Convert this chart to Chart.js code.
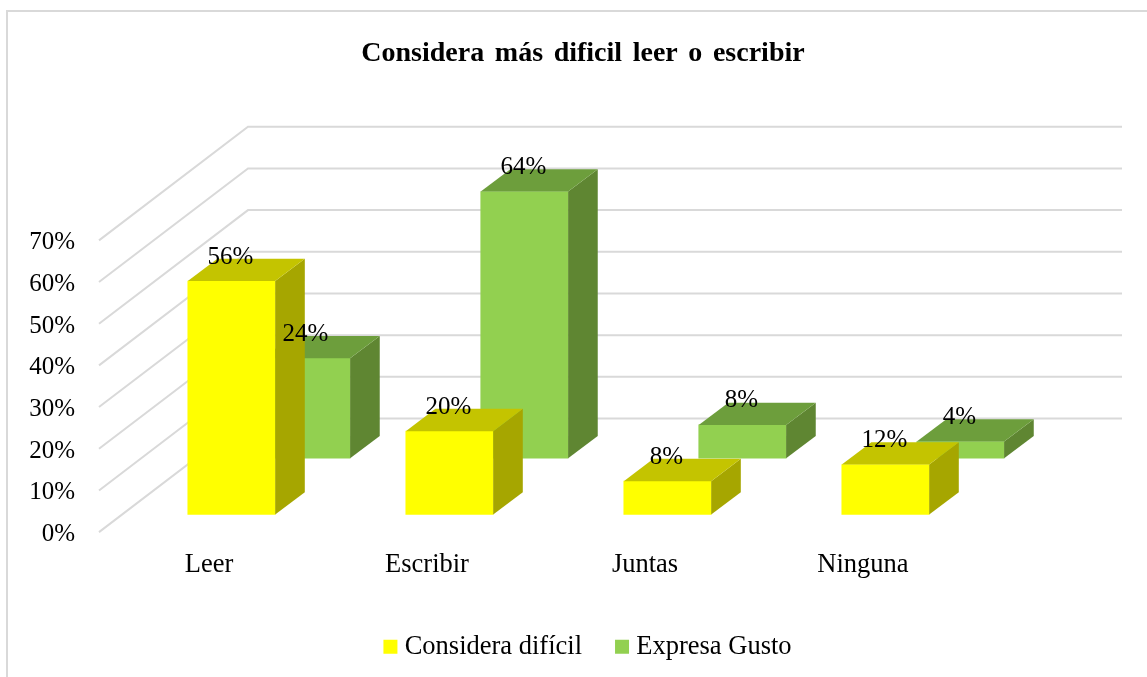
<!DOCTYPE html>
<html><head><meta charset="utf-8">
<style>html,body{margin:0;padding:0;background:#fff}canvas{display:block}</style>
<script src="https://cdn.jsdelivr.net/npm/chart.js@4"></script>
</head><body>
<div style="width:1147px;height:677px;position:relative"><canvas id="c"></canvas></div>
<script>
const categories = ['Leer','Escribir','Juntas','Ninguna'];
const consideraDificil = [56,20,8,12];
const expresaGusto = [24,64,8,4];
const yTicks = [0,10,20,30,40,50,60,70];
const SERIF = '"Liberation Serif","Times New Roman",serif';
const DX = 29.6, DY = 22.3, FRONT = 17.6, BACK = -96;
const faces = [
  {side:'#A6A600', top:'#C4C400'},
  {side:'#5F8632', top:'#6D9E3C'}
];
const box3d = {
  id:'box3d',
  afterLayout(chart){
    const t = chart.titleBlock;
    t.left += 97; t.right += 97;
    if(!t._spaced){
      t._spaced = true;
      const draw = t.draw.bind(t);
      t.draw = function(){
        const c = t.ctx; c.save(); c.wordSpacing = '3.6px'; draw(); c.restore();
      };
    }
    chart.legend.left += 104.5; chart.legend.right += 104.5;
    chart.legend.top -= 7; chart.legend.bottom -= 7;
  },
  beforeDraw(chart){
    const c = chart.ctx; c.save();
    c.strokeStyle='#d9d9d9'; c.lineWidth=2;
    c.beginPath(); c.moveTo(7,677); c.lineTo(7,11); c.lineTo(1147,11); c.stroke();
    c.restore();
  },
  beforeDatasetsDraw(chart){
    const c = chart.ctx, y = chart.scales.y; c.save();
    c.strokeStyle='#d9d9d9'; c.lineWidth=2;
    yTicks.forEach(v=>{
      const p = y.getPixelForValue(v);
      c.beginPath(); c.moveTo(99,p+FRONT); c.lineTo(248,p+BACK); c.lineTo(1122,p+BACK); c.stroke();
    });
    c.restore();
  },
  afterDatasetDraw(chart,args){
    const c = chart.ctx, f = faces[args.index]; c.save();
    chart.getDatasetMeta(args.index).data.forEach(b=>{
      const l=b.x-b.width/2, r=b.x+b.width/2, t=b.y, u=b.base;
      c.fillStyle=f.side;
      c.beginPath(); c.moveTo(r,u); c.lineTo(r,t); c.lineTo(r+DX,t-DY); c.lineTo(r+DX,u-DY); c.closePath(); c.fill();
      c.fillStyle=f.top;
      c.beginPath(); c.moveTo(l,t); c.lineTo(r,t); c.lineTo(r+DX,t-DY); c.lineTo(l+DX,t-DY); c.closePath(); c.fill();
    });
    c.restore();
  },
  afterDatasetsDraw(chart){
    const c = chart.ctx; c.save();
    c.font='25px '+SERIF; c.fillStyle='#000'; c.textAlign='center'; c.textBaseline='middle';
    [1,0].forEach(i=>{
      chart.getDatasetMeta(i).data.forEach((b,j)=>{
        c.fillText(chart.data.datasets[i].data[j].y+'%', b.x-1, b.y-24);
      });
    });
    c.restore();
  }
};
new Chart(document.getElementById('c'),{
  type:'bar',
  data:{
    labels:categories,
    datasets:[
      {label:'Considera difícil',data:consideraDificil.map((v,i)=>({x:i,y:v})),backgroundColor:'#FFFF00',
       xAxisID:'xYellow',yAxisID:'y',order:0,clip:false,barThickness:87.4,grouped:false},
      {label:'Expresa Gusto',data:expresaGusto.map((v,i)=>({x:i,y:v})),backgroundColor:'#92D050',
       xAxisID:'xGreen',yAxisID:'yGreen',order:1,clip:false,barThickness:87.4,grouped:false}
    ]
  },
  options:{
    responsive:true,maintainAspectRatio:false,animation:false,
    layout:{padding:{left:0,right:175,top:0,bottom:0}},
    plugins:{
      tooltip:{enabled:false},
      title:{display:true,text:'Considera más dificil leer o escribir',color:'#000',
        font:{family:SERIF,size:28,weight:'bold',lineHeight:1.2},
        padding:{top:36.5,bottom:152.65}},
      legend:{display:true,position:'bottom',
        labels:{usePointStyle:true,pointStyle:'rect',boxWidth:2,boxHeight:14,padding:39,color:'#000',
          font:{family:SERIF,size:26.5}}}
    },
    scales:{
      x:{type:'category',offset:true,grid:{display:false},border:{display:false},
        ticks:{color:'#000',font:{family:SERIF,size:26.5},padding:27,autoSkip:false,maxRotation:0},
        afterFit(s){s.height=87;}},
      xYellow:{type:'linear',axis:'x',display:false,offset:false,min:-0.6032,max:3.3968},
      xGreen:{type:'linear',axis:'x',display:false,offset:false,min:-0.947,max:3.053},
      y:{type:'linear',min:0,max:70,grid:{display:false,drawTicks:false},border:{display:false},
        afterFit(s){s.width=100;},
        ticks:{stepSize:10,color:'#000',font:{family:SERIF,size:25},padding:25,labelOffset:FRONT+2.5,callback:v=>v+'%'}},
      yGreen:{type:'linear',axis:'y',display:false,min:-13.49,max:56.51}
    }
  },
  plugins:[box3d]
});
</script>
</body></html>
